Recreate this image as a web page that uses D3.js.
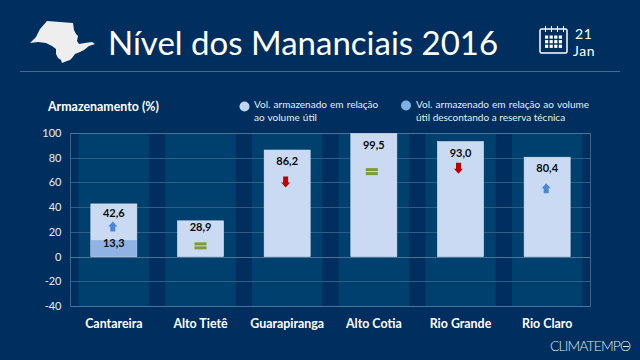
<!DOCTYPE html>
<html><head><meta charset="utf-8">
<script src="https://cdn.jsdelivr.net/npm/d3@7/dist/d3.min.js"></script>
<style>
html,body{margin:0;padding:0;background:#002f5f}
svg{display:block}
text{font-family:Lato,"Open Sans",sans-serif}
</style></head><body><svg id="c" width="640" height="360"></svg>
<script>
const categories=["Cantareira","Alto Tietê","Guarapiranga","Alto Cotia","Rio Grande","Rio Claro"];
const volumeUtil=[42.6,28.9,86.2,99.5,93.0,80.4];
const volumeReserva=[13.3,null,null,null,null,null];
const trend=["up","equal","down","equal","down","up"];
const yTicks=[-40,-20,0,20,40,60,80,100];
const legendLines1=["Vol. armazenado em relação","ao volume útil"];
const legendLines2=["Vol. armazenado em relação ao volume","útil descontando a reserva técnica"];

const svg=d3.select("#c");
const W=640,H=360,L=70.5,R=590.5,T=133,B=306;
const fmt=v=>v.toFixed(1).replace(".",",");
svg.append("rect").attr("width",W).attr("height",H).attr("fill","#002f5f");

const x=d3.scaleBand().domain(categories).range([L,R]).paddingInner(0.187).paddingOuter(0.0935);
const xBand=d3.scaleBand().domain(categories).range([L,R]);
const y=d3.scaleLinear().domain([-40,100]).range([B,T]);
const bw=46;

// header
svg.append("path").attr("fill","#eeeeee")
 .attr("d","M30,43L36,37L40,29L47,21L60,22L73,23L74,30L76,34L78,36L77,41L79,44L85,43L92,42L95,44L89,46L84,50L80,52L75,54L72,58L70,60L67,61L62,63L61,60L58,58L56,54L56,49L52,46L46,43L38,42Z");
svg.append("text").attr("x",108).attr("y",55).attr("fill","#fff").attr("font-size",33).text("Nível dos Mananciais 2016");
svg.append("line").attr("x1",20).attr("x2",620).attr("y1",71.5).attr("y2",71.5).attr("stroke","#47688f");

// calendar icon
const cal=svg.append("g").attr("fill","none").attr("stroke","#fff");
cal.append("rect").attr("x",540).attr("y",29).attr("width",27).attr("height",24).attr("rx",1.5).attr("stroke-width",1.5);
[546,552,558,564].forEach(cx=>cal.append("line").attr("x1",cx-.5).attr("x2",cx-.5).attr("y1",26).attr("y2",32).attr("stroke-width",1));
const dots=svg.append("g").attr("fill","#fff");
[0,1,2].forEach(r=>[0,1,2,3].forEach(c=>{
 dots.append("rect").attr("x",545+c*4.6).attr("y",35.5+r*4.6).attr("width",3.2).attr("height",3.2);}));
svg.append("text").attr("x",575).attr("y",39).attr("fill","#fff").attr("font-size",14).attr("letter-spacing",.6).text("21");
svg.append("text").attr("x",573).attr("y",56).attr("fill","#fff").attr("font-size",14).attr("letter-spacing",.6).text("Jan");

// legend
svg.append("text").attr("x",48).attr("y",111).attr("fill","#fff").attr("font-size",12.4).attr("font-weight",700).text("Armazenamento (%)");
svg.append("circle").attr("cx",244.5).attr("cy",106.5).attr("r",5).attr("fill","#bdd7ee");
legendLines1.forEach((t,i)=>svg.append("text").attr("x",254).attr("y",107.5+i*13).attr("fill","#e6edf5").attr("font-size",10).attr("word-spacing",.6).text(t));
svg.append("circle").attr("cx",406).attr("cy",105.5).attr("r",5).attr("fill","#7fb3e8");
legendLines2.forEach((t,i)=>svg.append("text").attr("x",416).attr("y",107.5+i*13).attr("fill","#e6edf5").attr("font-size",10).attr("word-spacing",i?.0:.6).text(t));

// bands
svg.append("g").selectAll("rect").data(categories).join("rect")
 .attr("x",d=>x(d)).attr("width",x.bandwidth()).attr("y",T).attr("height",B-T).attr("fill","#00406f");

// grid
svg.append("g").selectAll("line").data(yTicks).join("line")
 .attr("x1",L).attr("x2",R).attr("y1",d=>Math.round(y(d))+.5).attr("y2",d=>Math.round(y(d))+.5)
 .attr("stroke",d=>(d===0||d===-40||d===100)?"#4d7398":"#2f5d88");
svg.append("line").attr("x1",L).attr("x2",L).attr("y1",T).attr("y2",B).attr("stroke","#3f6489");
svg.append("line").attr("x1",R).attr("x2",R).attr("y1",T).attr("y2",B).attr("stroke","#3f6489");

// bars
const cx=d=>xBand(d)+xBand.bandwidth()/2;
svg.append("g").selectAll("rect").data(categories).join("rect")
 .attr("x",d=>cx(d)-bw/2).attr("width",bw)
 .attr("y",(d,i)=>y(volumeUtil[i])).attr("height",(d,i)=>y(0)-y(volumeUtil[i]))
 .attr("fill","#c9daf2").attr("stroke","#e3ecf8").attr("stroke-width",.6);
svg.append("g").selectAll("rect").data(categories.filter((d,i)=>volumeReserva[i]!=null)).join("rect")
 .attr("x",d=>cx(d)-bw/2).attr("width",bw)
 .attr("y",d=>y(volumeReserva[categories.indexOf(d)]))
 .attr("height",d=>y(0)-y(volumeReserva[categories.indexOf(d)]))
 .attr("fill","#8fb4e3");

// labels
const labelOffset=[9.5,6.5,11,11,11,11];
const arrowOffset=[23,25,32,38,26.5,31.5];
const arrowShift=[-1,0,-1.5,-2,-2,-1];
svg.append("g").selectAll("text").data(categories).join("text")
 .attr("x",d=>cx(d)).attr("y",(d,i)=>y(volumeUtil[i])+labelOffset[i]+4)
 .attr("text-anchor","middle").attr("font-size",11).attr("font-weight",700).attr("fill","#0b0b0b")
 .text((d,i)=>fmt(volumeUtil[i]));
categories.forEach((d,i)=>{ if(volumeReserva[i]==null)return;
 svg.append("text").attr("x",cx(d)).attr("y",y(volumeReserva[i])+3+4)
 .attr("text-anchor","middle").attr("font-size",11).attr("font-weight",700).attr("fill","#0b0b0b").text(fmt(volumeReserva[i]));});

// trend marks
categories.forEach((d,i)=>{
 const g=svg.append("g").attr("transform",`translate(${cx(d)+arrowShift[i]},${y(volumeUtil[i])+arrowOffset[i]})`);
 if(trend[i]==="up") g.append("path").attr("d","M0,-5.5L4.5,-0.5L2.5,-0.5L2.5,4.5L-2.5,4.5L-2.5,-0.5L-4.5,-0.5Z").attr("fill","#4a86d2");
 if(trend[i]==="down") g.append("path").attr("d","M0,5.5L4.5,0.5L2.5,0.5L2.5,-5.5L-2.5,-5.5L-2.5,0.5L-4.5,0.5Z").attr("fill","#c00000");
 if(trend[i]==="equal"){[-3.5,.5].forEach(o=>g.append("rect").attr("x",-6).attr("y",o).attr("width",12).attr("height",3).attr("fill","#7f9a3c"));}
});

// axes
const yAxis=d3.axisLeft(y).tickValues(yTicks).tickSize(0).tickPadding(9).tickFormat(d=>String(d));
const ya=svg.append("g").attr("transform",`translate(${L},0)`).call(yAxis);
ya.select(".domain").remove();
ya.selectAll("text").attr("fill","#e6edf5").attr("font-size",11).attr("font-family","Lato");
const xAxis=d3.axisBottom(xBand).tickSize(0).tickPadding(11);
const xa=svg.append("g").attr("transform",`translate(0,${B})`).call(xAxis);
xa.select(".domain").remove();
xa.selectAll("text").attr("fill","#fff").attr("font-size",12.4).attr("font-weight",700).attr("font-family","Lato").attr("dy","0.9em");

// brand
svg.append("text").attr("x",550).attr("y",351).attr("fill","#dfe8f2").attr("font-size",14).attr("font-weight",300).attr("letter-spacing",-.9).text("CLIMATEMPO");
svg.append("line").attr("x1",623).attr("x2",629).attr("y1",346.5).attr("y2",346.5).attr("stroke","#dfe8f2");
</script></body></html>
